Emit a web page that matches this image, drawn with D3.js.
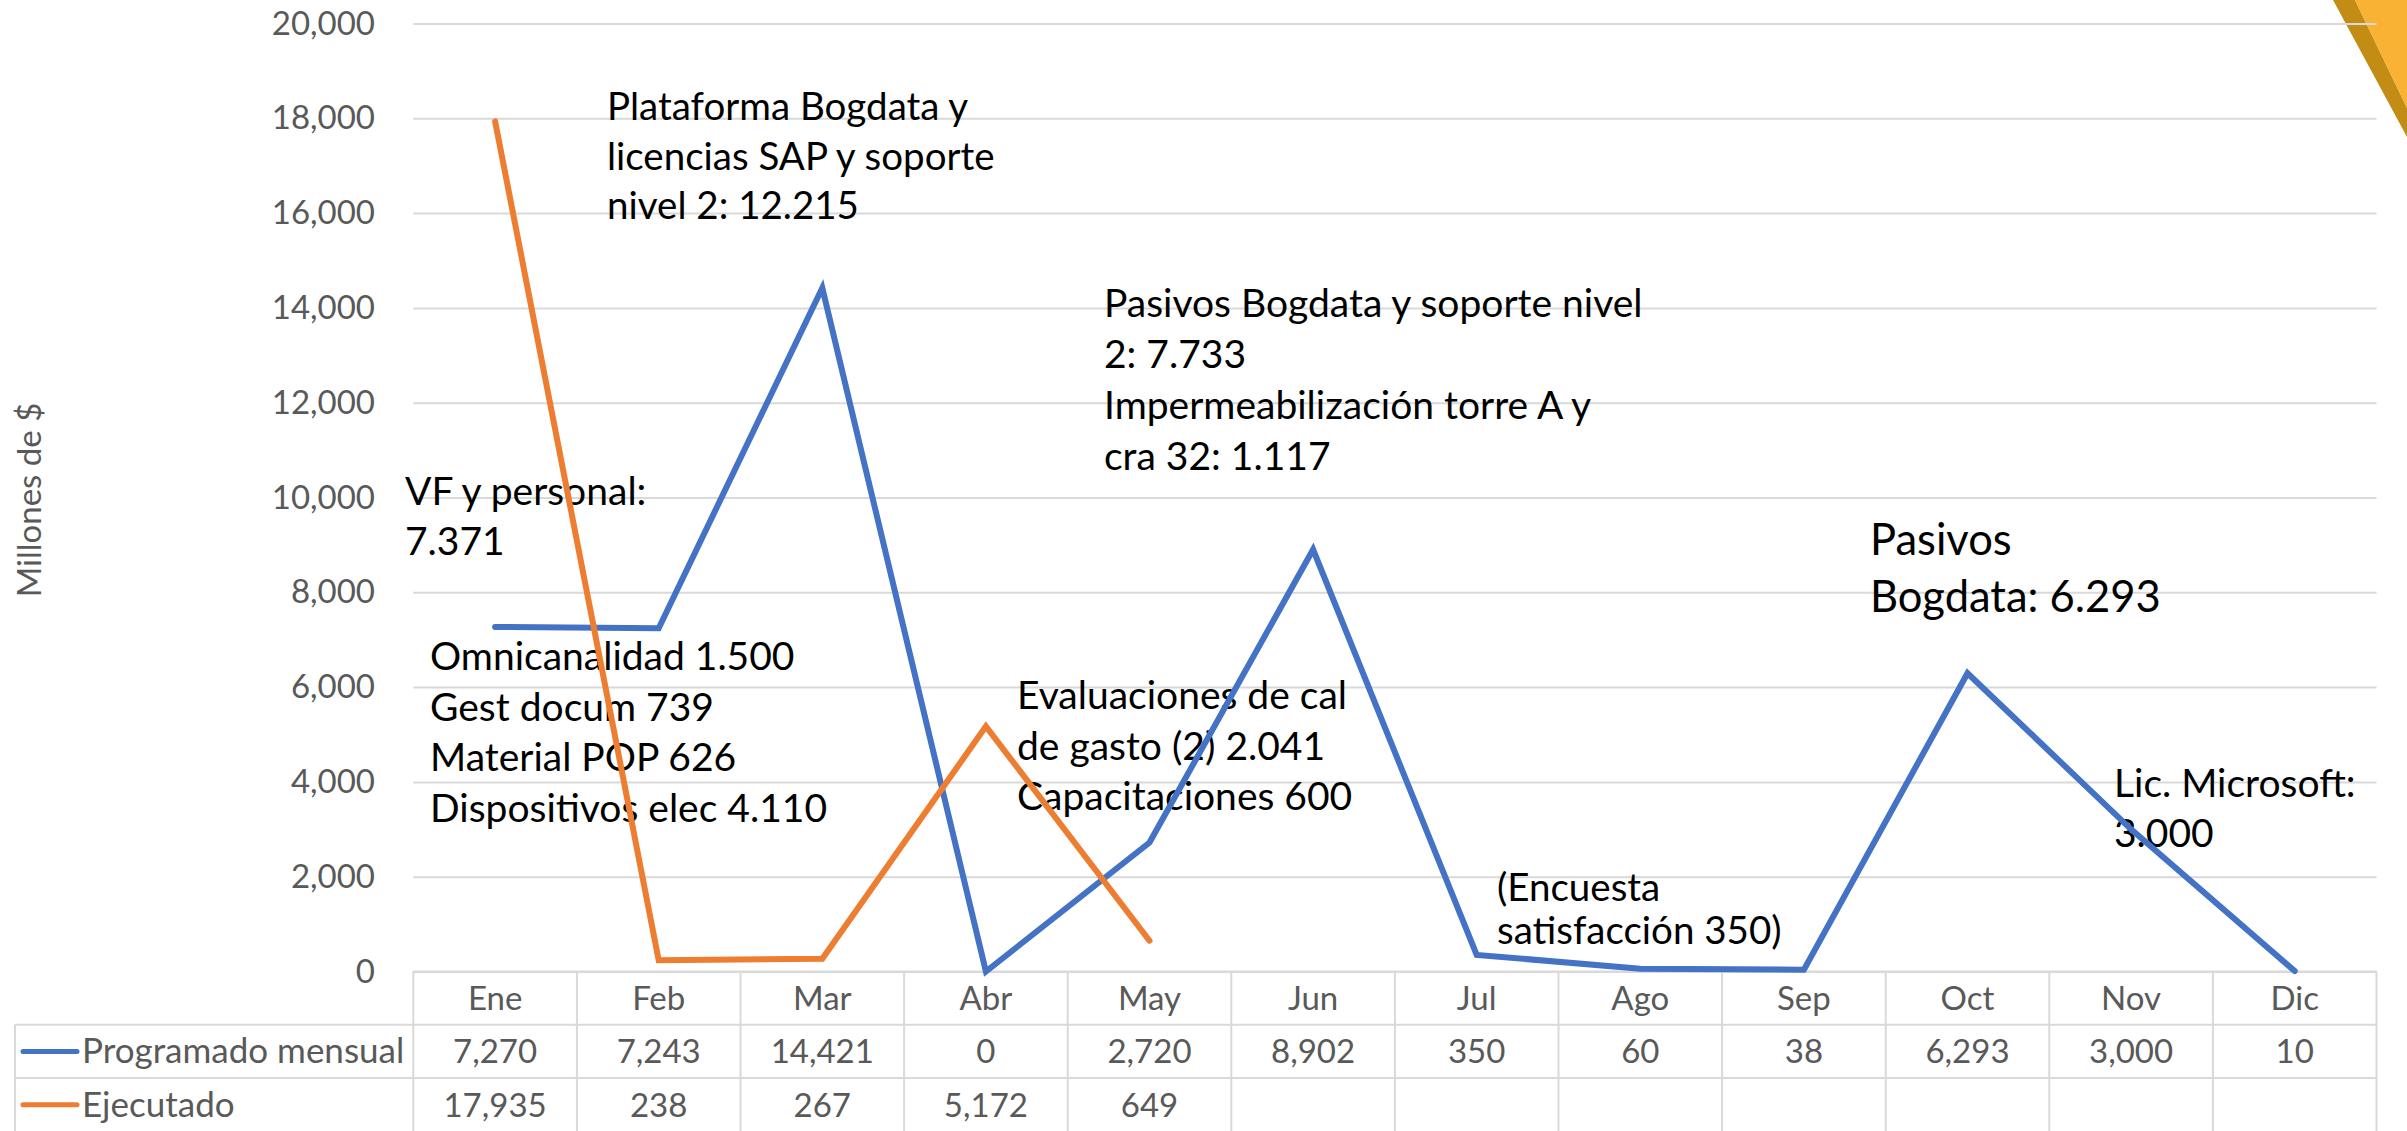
<!DOCTYPE html>
<html>
<head>
<meta charset="utf-8">
<script src="https://cdn.jsdelivr.net/npm/d3@7"></script>
<style>
  body { margin: 0; background: #fff; }
  svg { display: block; font-family: Lato, sans-serif; }
</style>
</head>
<body>
<div id="chart"></div>
<script>
// data
const months = ['Ene', 'Feb', 'Mar', 'Abr', 'May', 'Jun', 'Jul', 'Ago', 'Sep', 'Oct', 'Nov', 'Dic'];
const programado = [7270, 7243, 14421, 0, 2720, 8902, 350, 60, 38, 6293, 3000, 10];
const ejecutado = [17935, 238, 267, 5172, 649];
const yTickValues = [0, 2000, 4000, 6000, 8000, 10000, 12000, 14000, 16000, 18000, 20000];
const seriesNames = ['Programado mensual', 'Ejecutado'];
const yTitle = 'Millones de $';
const notes = [
    ['Plataforma Bogdata y', 'licencias SAP y soporte', 'nivel 2: 12.215'],
    ['VF y personal:', '7.371'],
    ['Omnicanalidad 1.500', 'Gest docum 739', 'Material POP 626', 'Dispositivos elec 4.110'],
    ['Pasivos Bogdata y soporte nivel', '2: 7.733', 'Impermeabilización torre A y', 'cra 32: 1.117'],
    ['Evaluaciones de cal', 'de gasto (2) 2.041', 'Capacitaciones 600'],
    ['(Encuesta', 'satisfacción 350)'],
    ['Pasivos', 'Bogdata: 6.293'],
    ['Lic. Microsoft:', '3.000'],
];

// layout
const width = 2407;
const height = 1131;
const plotLeft = 413.3, plotRight = 2376.5, plotTop = 23.5, plotBottom = 971.5;
const rowH = 53.3;
const tableLeft = 15;
const colors = ['#4472C4', '#ED7D31'];
const notePos = [
    { x: 607, y: 120, lh: 49.7, size: 38.5 },
    { x: 405, y: 505, lh: 50, size: 39 },
    { x: 430, y: 670, lh: 50.5, size: 39 },
    { x: 1104, y: 317, lh: 51, size: 39 },
    { x: 1017, y: 709, lh: 50.5, size: 39 },
    { x: 1497, y: 901, lh: 43, size: 38.5 },
    { x: 1870, y: 555, lh: 57, size: 43.5 },
    { x: 2114, y: 797, lh: 50, size: 39 },
];

const svg = d3.select('#chart')
    .append('svg')
    .attr('width', width)
    .attr('height', height);

svg.append('rect').attr('width', width).attr('height', height).attr('fill', '#fff');

// corner decoration
svg.append('polygon').attr('points', '2333,0 2355,0 2407,108 2407,137').attr('fill', '#C38D15');
svg.append('polygon').attr('points', '2355,0 2407,0 2407,108').attr('fill', '#F9B233');

const x = d3.scaleBand().domain(months).range([plotLeft, plotRight]);
const y = d3.scaleLinear().domain([0, 20000]).range([plotBottom, plotTop]);
const cx = (m) => x(m) + x.bandwidth() / 2;

// gridlines
svg.append('g')
    .attr('transform', `translate(${plotLeft},0)`)
    .call(d3.axisLeft(y).tickValues(yTickValues).tickSize(-(plotRight - plotLeft)).tickFormat(''))
    .call((g) => g.select('.domain').remove())
    .selectAll('line')
    .attr('stroke', '#D9D9D9')
    .attr('stroke-width', 2);

// y labels
svg.append('g')
    .attr('transform', 'translate(375,0)')
    .call(d3.axisLeft(y).tickValues(yTickValues).tickSize(0).tickPadding(0).tickFormat(d3.format(',')))
    .attr('font-family', null)
    .attr('font-size', null)
    .call((g) => g.select('.domain').remove())
    .selectAll('text')
    .attr('font-size', 33)
    .attr('fill', '#595959');

// y title
svg.append('text')
    .attr('transform', 'translate(41,500) rotate(-90)')
    .attr('text-anchor', 'middle')
    .attr('font-size', 33)
    .attr('fill', '#595959')
    .text(yTitle);

// data table grid
const table = svg.append('g').attr('stroke', '#D9D9D9').attr('stroke-width', 2);
table.append('line').attr('x1', plotLeft).attr('x2', plotRight).attr('y1', plotBottom).attr('y2', plotBottom);
[1, 2].forEach((r) => {
    table.append('line')
        .attr('x1', tableLeft).attr('x2', plotRight)
        .attr('y1', plotBottom + r * rowH).attr('y2', plotBottom + r * rowH);
});
table.append('line').attr('x1', tableLeft).attr('x2', tableLeft).attr('y1', plotBottom + rowH).attr('y2', height);
table.selectAll('.col')
    .data(months.map((m) => x(m)).concat([plotRight]))
    .enter()
    .append('line')
    .attr('x1', (d) => d).attr('x2', (d) => d)
    .attr('y1', plotBottom).attr('y2', height);

// month header via axis
svg.append('g')
    .attr('transform', `translate(0,${plotBottom})`)
    .call(d3.axisBottom(x).tickSize(0).tickPadding(15))
    .attr('font-family', null)
    .attr('font-size', null)
    .call((g) => g.select('.domain').remove())
    .selectAll('text')
    .attr('font-size', 33)
    .attr('fill', '#595959');

// table rows
[programado, ejecutado].forEach((vals, r) => {
    const rowMid = plotBottom + rowH * (r + 1.5);
    svg.append('line')
        .attr('x1', 23).attr('x2', 77)
        .attr('y1', rowMid).attr('y2', rowMid)
        .attr('stroke', colors[r])
        .attr('stroke-width', 5)
        .attr('stroke-linecap', 'round');
    svg.append('text')
        .attr('x', 82)
        .attr('y', rowMid + 12)
        .attr('font-size', 35)
        .attr('fill', '#595959')
        .text(seriesNames[r]);
    svg.selectAll('.val' + r)
        .data(vals)
        .enter()
        .append('text')
        .attr('class', 'val' + r)
        .attr('x', (d, i) => cx(months[i]))
        .attr('y', rowMid + 12)
        .attr('text-anchor', 'middle')
        .attr('font-size', 33)
        .attr('fill', '#595959')
        .text((d) => d3.format(',')(d));
});

// annotations
notes.forEach((lines, k) => {
    const p = notePos[k];
    const t = svg.append('text')
        .attr('font-size', p.size)
        .attr('fill', '#000');
    lines.forEach((line, j) => {
        t.append('tspan')
            .attr('x', p.x)
            .attr('y', p.y + j * p.lh)
            .text(line);
    });
});

// lines
[programado, ejecutado].forEach((vals, r) => {
    const line = d3.line()
        .x((d, i) => cx(months[i]))
        .y((d) => y(d));
    svg.append('path')
        .datum(vals)
        .attr('fill', 'none')
        .attr('stroke', colors[r])
        .attr('stroke-width', 6)
        .attr('stroke-linecap', 'round')
        .attr('stroke-linejoin', 'miter')
        .attr('d', line);
});
</script>
</body>
</html>
